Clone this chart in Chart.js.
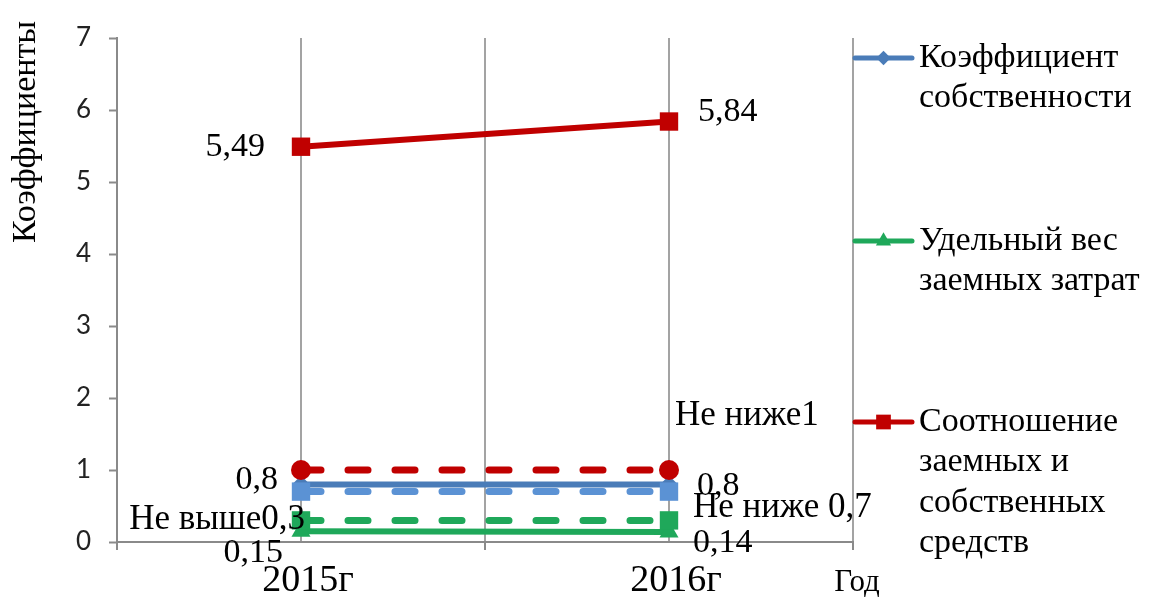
<!DOCTYPE html>
<html>
<head>
<meta charset="utf-8">
<script src="https://cdn.jsdelivr.net/npm/chart.js@4.4.1/dist/chart.umd.min.js"></script>
<style>
  html, body { margin: 0; padding: 0; background: #ffffff; }
  canvas { display: block; }
</style>
</head>
<body>
<canvas id="chart" width="1150" height="598"></canvas>
<script>
// ---- data ----
const years = [2015, 2016];
const yearLabels = ['2015г', '2016г'];
const xAxisTitle = 'Год';
const yAxisTitle = 'Коэффициенты';

const ownershipRatio = [0.8, 0.8];        // Коэффициент собственности
const borrowedCostShare = [0.15, 0.14];   // Удельный вес заемных затрат
const debtEquityRatio = [5.49, 5.84];     // Соотношение заемных и собственных средств

const seriesNames = [
  'Коэффициент собственности',
  'Удельный вес заемных затрат',
  'Соотношение заемных и собственных средств'
];

// normative levels
const normDebtEquity = [1, 1];
const normOwnership = [0.7, 0.7];
const normBorrowed = [0.3, 0.3];
const normLabels = ['Не ниже1', 'Не ниже 0,7', 'Не выше0,3'];

const yMin = 0, yMax = 7, yStep = 1;

// ---- styles ----
const SERIF = '"Liberation Serif", "Times New Roman", serif';
const SANS = 'Lato, "Liberation Sans", sans-serif';
const GRID = '#a3a3a3';
const AXIS = '#8a8a8a';

const toPoints = vals => years.map((x, i) => ({ x: x, y: vals[i] }));

const datasets = [
  { label: seriesNames[0], data: toPoints(ownershipRatio), inLegend: true,
    borderColor: '#4A7CB8', backgroundColor: '#4A7CB8', borderWidth: 6,
    pointStyle: 'rectRot', pointRadius: 9, order: 2 },
  { label: seriesNames[1], data: toPoints(borrowedCostShare), inLegend: true,
    borderColor: '#1FA85A', backgroundColor: '#1FA85A', borderWidth: 6,
    pointStyle: 'triangle', pointRadius: 11, order: 2 },
  { label: seriesNames[2], data: toPoints(debtEquityRatio), inLegend: true,
    borderColor: '#C00000', backgroundColor: '#C00000', borderWidth: 6,
    pointStyle: 'rect', pointRadius: 13, order: 2 },
  { label: normLabels[0], data: toPoints(normDebtEquity), inLegend: false,
    borderColor: '#C00000', backgroundColor: '#C00000', borderWidth: 7,
    borderDash: [20, 27], borderCapStyle: 'round',
    pointStyle: 'circle', pointRadius: 10, order: 1 },
  { label: normLabels[1], data: toPoints(normOwnership), inLegend: false,
    borderColor: '#5B92D4', backgroundColor: '#5B92D4', borderWidth: 7,
    borderDash: [20, 27], borderCapStyle: 'round',
    pointStyle: 'rect', pointRadius: 13, order: 1 },
  { label: normLabels[2], data: toPoints(normBorrowed), inLegend: false,
    borderColor: '#1FA85A', backgroundColor: '#1FA85A', borderWidth: 7,
    borderDash: [20, 27], borderCapStyle: 'round',
    pointStyle: 'rect', pointRadius: 13, order: 1 }
];
datasets.forEach(d => { d.pointBorderWidth = 0; d.tension = 0; d.fill = false; });

// where each value / norm caption sits relative to its point
const labelPlacement = [
  { ds: 0, i: 0, align: 'right', dx: -23, dy: -4 },
  { ds: 0, i: 1, align: 'left',  dx: 28,  dy: 2 },
  { ds: 1, i: 0, align: 'right', dx: -18, dy: 22 },
  { ds: 1, i: 1, align: 'left',  dx: 24,  dy: 11 },
  { ds: 2, i: 0, align: 'right', dx: -36, dy: 0 },
  { ds: 2, i: 1, align: 'left',  dx: 29,  dy: -9 },
  { ds: 3, i: 1, align: 'left',  dx: 6,   dy: -54, caption: true },
  { ds: 4, i: 1, align: 'left',  dx: 24,  dy: 16,  caption: true },
  { ds: 5, i: 0, align: 'right', dx: 4,   dy: -1,  caption: true }
];

const fmt = v => String(v).replace('.', ',');
const near = (a, b) => Math.abs(a - b) < 1e-6;

const valueLabels = {
  id: 'valueLabels',
  afterDatasetsDraw(chart) {
    const ctx = chart.ctx;
    const xs = chart.scales.x, ys = chart.scales.y;
    ctx.save();
    ctx.fillStyle = '#000';
    ctx.textBaseline = 'middle';
    labelPlacement.forEach(p => {
      const ds = chart.data.datasets[p.ds];
      const pt = ds.data[p.i];
      const px = xs.getPixelForValue(pt.x);
      const py = ys.getPixelForValue(pt.y);
      ctx.font = (p.caption ? '35px ' : '34px ') + SERIF;
      ctx.textAlign = p.align;
      ctx.fillText(p.caption ? ds.label : fmt(pt.y), px + p.dx, py + p.dy);
    });
    ctx.restore();
  }
};

function wrapWords(ctx, text, maxWidth) {
  const words = text.split(' ');
  const lines = [];
  let cur = '';
  words.forEach(w => {
    const test = cur ? cur + ' ' + w : w;
    if (cur && ctx.measureText(test).width > maxWidth) { lines.push(cur); cur = w; }
    else cur = test;
  });
  if (cur) lines.push(cur);
  return lines;
}

const sideLegend = {
  id: 'sideLegend',
  afterDraw(chart) {
    const ctx = chart.ctx;
    const rowY = [58, 241, 422];
    const lineX0 = 855, lineX1 = 912, textX = 919, lineH = 40.5;
    ctx.save();
    ctx.font = '34px ' + SERIF;
    let row = 0;
    chart.data.datasets.forEach(ds => {
      if (!ds.inLegend) return;
      const y = rowY[row++];
      ctx.strokeStyle = ds.borderColor;
      ctx.lineWidth = 5;
      ctx.lineCap = 'round';
      ctx.beginPath();
      ctx.moveTo(lineX0, y);
      ctx.lineTo(lineX1, y);
      ctx.stroke();
      ctx.fillStyle = ds.backgroundColor;
      Chart.helpers.drawPoint(ctx, {
        pointStyle: ds.pointStyle, radius: ds.pointRadius * 0.8,
        borderWidth: 0, rotation: 0
      }, (lineX0 + lineX1) / 2, y);
      ctx.fillStyle = '#000';
      ctx.textAlign = 'left';
      ctx.textBaseline = 'middle';
      wrapWords(ctx, ds.label, 260).forEach((ln, k) => ctx.fillText(ln, textX, y + k * lineH));
    });
    ctx.restore();
  }
};

const axisTitles = {
  id: 'axisTitles',
  afterDraw(chart) {
    const ctx = chart.ctx;
    const xs = chart.scales.x;
    ctx.save();
    ctx.fillStyle = '#000';
    // vertical axis title
    ctx.font = '34px ' + SERIF;
    ctx.translate(35, 132);
    ctx.rotate(-Math.PI / 2);
    ctx.textAlign = 'center';
    ctx.textBaseline = 'alphabetic';
    ctx.fillText(yAxisTitle, 0, 0);
    ctx.restore();
    // horizontal axis title at the right end of the axis
    ctx.save();
    ctx.fillStyle = '#000';
    ctx.font = '31px ' + SERIF;
    ctx.textAlign = 'center';
    ctx.textBaseline = 'middle';
    ctx.fillText(xAxisTitle, xs.right + 4, 583);
    ctx.restore();
  }
};

new Chart(document.getElementById('chart'), {
  type: 'line',
  data: { datasets: datasets },
  plugins: [valueLabels, sideLegend, axisTitles],
  options: {
    responsive: false,
    animation: false,
    layout: { padding: { left: 0, right: 297, top: 38, bottom: 0 } },
    plugins: { legend: { display: false }, tooltip: { enabled: false } },
    scales: {
      x: {
        type: 'linear',
        min: years[0] - 0.5,
        max: years[years.length - 1] + 0.5,
        afterFit(scale) { scale.height = 56; scale.paddingLeft = 0; scale.paddingRight = 0; },
        grid: {
          color: c => (c.index === 0 ? 'rgba(0,0,0,0)' : GRID),
          lineWidth: 2,
          drawTicks: true,
          tickLength: 8,
          tickColor: c => (c.tick && !years.some(y => near(y, c.tick.value)) ? AXIS : 'rgba(0,0,0,0)'),
          tickWidth: 2
        },
        border: { display: true, color: AXIS, width: 2 },
        ticks: {
          stepSize: 0.5,
          autoSkip: false,
          maxRotation: 0,
          padding: 8,
          labelOffset: 7,
          color: '#000',
          font: { family: SERIF, size: 38 },
          callback: v => {
            const k = years.findIndex(y => near(y, v));
            return k >= 0 ? yearLabels[k] : '';
          }
        }
      },
      y: {
        min: yMin,
        max: yMax,
        afterFit(scale) { scale.width = 117; scale.paddingTop = 0; scale.paddingBottom = 0; },
        grid: {
          drawOnChartArea: false,
          drawTicks: true,
          tickLength: 8,
          tickColor: AXIS,
          tickWidth: 2
        },
        border: { display: true, color: AXIS, width: 2 },
        ticks: {
          stepSize: yStep,
          padding: 18,
          color: '#222',
          font: { family: SANS, size: 26 }
        }
      }
    }
  }
});
</script>
</body>
</html>
